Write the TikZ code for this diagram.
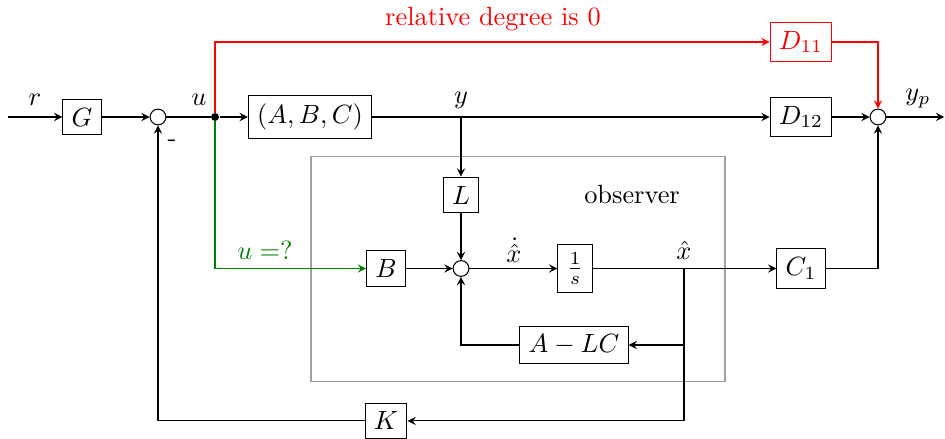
\documentclass[tikz,border=0pt]{standalone}
\usepackage{amsmath}
\usepackage{xcolor}
\usepackage{tikz}
\usetikzlibrary{shapes, arrows, positioning}

\begin{document}
\begin{tikzpicture}[
  >=stealth,
  block/.style={rectangle, draw, minimum height=0.45cm, minimum width=0.45cm, align=center},
  sum/.style={circle, draw, minimum size=0.21cm, inner sep=0pt},
  dot/.style={circle, fill, minimum size=3pt, inner sep=0pt},
  frame/.style={rectangle, draw=gray!75, minimum width=5.52cm, minimum height=3.01cm},
]
  \useasboundingbox (0,0) rectangle (12.6,-5.853);

  \node[frame] (obs) at (6.907,-3.587) {};
  \node (obslabel) at (8.427,-2.6) {observer};

  \coordinate (in) at (0.107,-1.56);
  \node[block] (G) at (1.093,-1.56) {$G$};
  \node[sum] (sum1) at (2.107,-1.56) {};
  \node[dot] (ju) at (2.867,-1.56) {};
  \node[block, minimum height=0.56cm] (plant) at (4.133,-1.56) {$(A,B,C)$};
  \coordinate (yb) at (6.147,-1.56);
  \node[block] (D12) at (10.68,-1.56) {$D_{12}$};
  \node[sum] (sum2) at (11.707,-1.56) {};
  \coordinate (out) at (12.59,-1.56);

  \node[block, draw=red, text=red] (D11) at (10.68,-0.56) {$D_{11}$};
  \node[text=red] (reldeg) at (6.573,-0.253) {relative degree is 0};

  \node[block] (L) at (6.147,-2.6) {$L$};
  \node[block] (B) at (5.147,-3.58) {$B$};
  \node[sum] (sum3) at (6.147,-3.58) {};
  \node[block] (int) at (7.667,-3.58) {$\frac{1}{s}$};
  \coordinate (xb) at (9.12,-3.58);
  \node[block] (C1) at (10.68,-3.58) {$C_1$};
  \node[block] (ALC) at (7.653,-4.6) {$A-LC$};
  \node[block] (K) at (5.147,-5.613) {$K$};

  \node (lr) at (0.467,-1.333) {$r$};
  \node (lu) at (2.653,-1.333) {$u$};
  \node (ly) at (6.147,-1.333) {$y$};
  \node (lyp) at (12.24,-1.31) {$y_p$};
  \node (lminus) at (2.293,-1.907) {-};
  \node (lxdot) at (6.853,-3.333) {$\dot{\hat{x}}$};
  \node (lxhat) at (9.12,-3.333) {$\hat{x}$};
  \node[text=green!50!black] (lq) at (3.533,-3.333) {$u=$?};

  \draw[->] (in) -- (G);
  \draw[->] (G) -- (sum1);
  \draw (sum1) -- (ju);
  \draw[->] (ju) -- (plant);
  \draw[->] (plant) -- (D12);
  \draw[->] (D12) -- (sum2);
  \draw[->] (sum2) -- (out);

  \draw[red, ->] (ju) |- (D11);
  \draw[red, ->] (D11) -| (sum2);
  \draw[green!50!black, ->] (ju) |- (B);

  \draw[->] (yb) -- (L);
  \draw[->] (L) -- (sum3);
  \draw[->] (B) -- (sum3);
  \draw[->] (sum3) -- (int);
  \draw[->] (int) -- (C1);
  \draw[->] (C1) -| (sum2);
  \draw[->] (xb) |- (ALC);
  \draw[->] (ALC) -| (sum3);
  \draw[->] (xb) |- (K);
  \draw[->] (K) -| (sum1);
\end{tikzpicture}
\end{document}
